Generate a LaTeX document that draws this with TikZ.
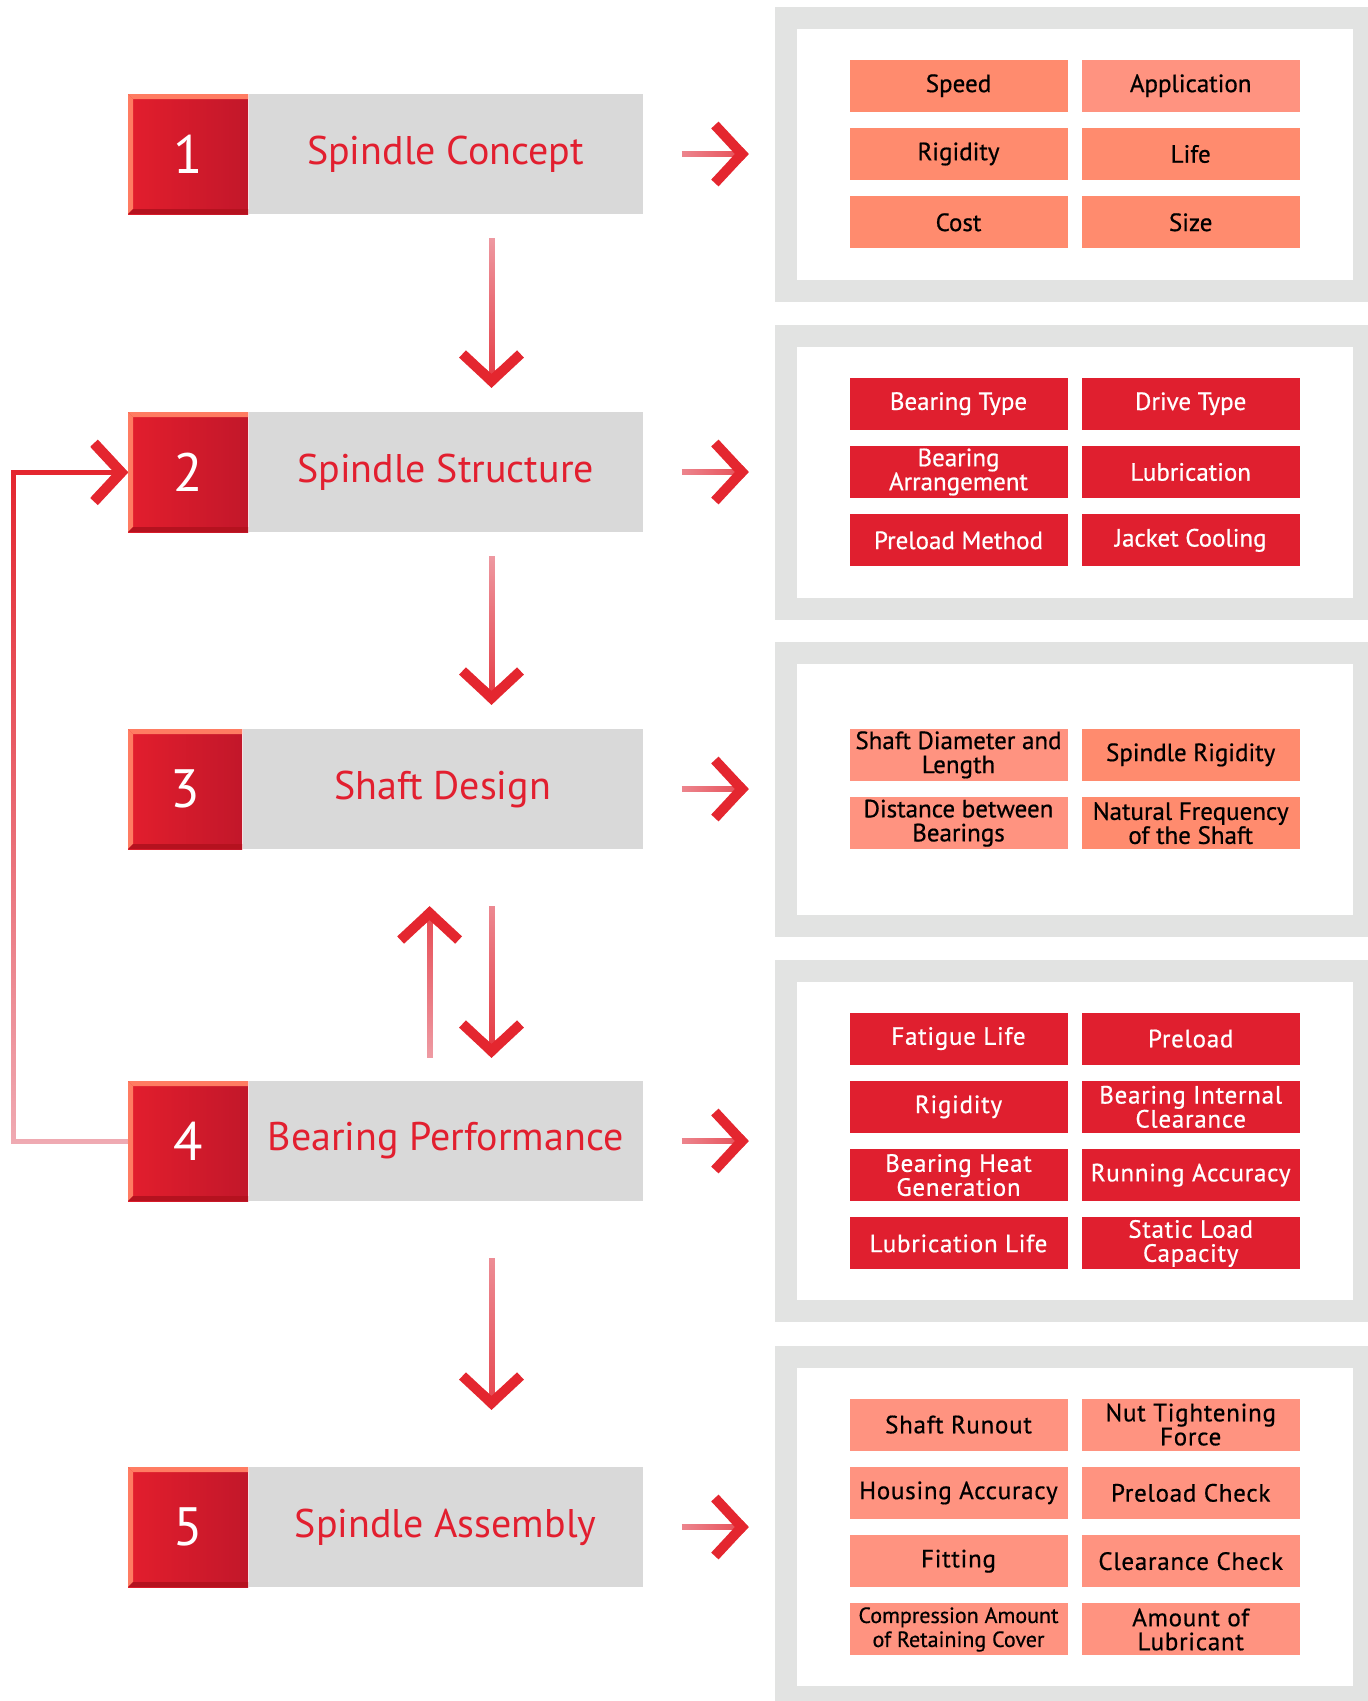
\documentclass[tikz,border=0pt]{standalone}
\usepackage{fontspec}
\setmainfont{PT Sans}
\newfontface\itemfont[FakeBold=0.6]{PT Sans}
\newcommand\narrowtxt{\fontsize{22}{23}\selectfont\addfontfeature{LetterSpace=0}}
\usetikzlibrary{positioning,arrows.meta,fadings}

\definecolor{numredL}{HTML}{E31E2D}
\definecolor{numredR}{HTML}{C2172A}
\definecolor{bevlight}{HTML}{FF7C62}
\definecolor{bevdark}{HTML}{B5121F}
\definecolor{stepgray}{HTML}{D9D9D9}
\definecolor{titlered}{HTML}{E21F2F}
\definecolor{panelgray}{HTML}{E2E3E2}
\definecolor{itemsalmon}{HTML}{FF8B6E}
\definecolor{itempink}{HTML}{FF9380}
\definecolor{itemred}{HTML}{E01F2F}
\definecolor{arrowred}{HTML}{E4262F}
\definecolor{shaftpink}{HTML}{F2C2CA}

\tikzfading[name=fade down, top color=transparent!85, bottom color=transparent!0]
\tikzfading[name=fade up, top color=transparent!0, bottom color=transparent!85]
\tikzfading[name=fade right, left color=transparent!85, right color=transparent!0]

\tikzset{
  numbox/.style={minimum width=120pt, minimum height=120pt, inner sep=0pt,
    left color=numredL, right color=numredR, text=white,
    font=\fontsize{54}{54}\selectfont,
    path picture={
      \fill[bevlight] (path picture bounding box.north west) -- (path picture bounding box.north east)
        -- ([yshift=-5pt]path picture bounding box.north east)
        -- ([xshift=5pt,yshift=-5pt]path picture bounding box.north west) -- cycle;
      \fill[bevlight] (path picture bounding box.north west) -- ([xshift=5pt,yshift=-5pt]path picture bounding box.north west)
        -- ([xshift=5pt,yshift=5pt]path picture bounding box.south west)
        -- (path picture bounding box.south west) -- cycle;
      \fill[bevdark] (path picture bounding box.south west) -- (path picture bounding box.south east)
        -- ([yshift=5pt]path picture bounding box.south east)
        -- ([xshift=5pt,yshift=5pt]path picture bounding box.south west) -- cycle;
    }},
  titlebox/.style={fill=stepgray, minimum width=394pt, minimum height=120pt, inner sep=0pt,
    text=titlered, font=\fontsize{40}{42}\selectfont},
  panelbox/.style={draw=panelgray, line width=22pt, fill=white, outer sep=0pt,
    minimum width=578pt, minimum height=273pt},
  item/.style={minimum width=218pt, minimum height=52pt, inner sep=0pt, align=center,
    font=\itemfont\fontsize{25}{24}\selectfont},
  wide/.style={font=\itemfont\fontsize{25}{24}\selectfont\addfontfeature{LetterSpace=3}},
  flow/.style={line width=6pt, draw=shaftpink,
    -{Straight Barb[length=27pt, width=58pt, line width=10pt, color=arrowred]},
    postaction={draw=arrowred, path fading=#1}},
}

\begin{document}
\begin{tikzpicture}[x=1pt, y=-1pt]
    \useasboundingbox (0,0) rectangle (1368,1701);
    \fill[white] (0,0) rectangle (1368,1701);

    % steps on the left
    \node[numbox, anchor=west] (num1) at (128,154) {1};
    \node[titlebox, right=0pt of num1] (step1) {Spindle Concept};
    \node[numbox, anchor=west] (num2) at (128,472) {2};
    \node[titlebox, right=0pt of num2] (step2) {Spindle Structure};
    \node[numbox, anchor=west, minimum width=114pt] (num3) at (128,789) {3};
    \node[titlebox, right=0pt of num3, minimum width=400pt] (step3) {Shaft Design};
    \node[numbox, anchor=west] (num4) at (128,1141) {4};
    \node[titlebox, right=0pt of num4] (step4) {Bearing Performance};
    \node[numbox, anchor=west] (num5) at (128,1527) {5};
    \node[titlebox, right=0pt of num5] (step5) {Spindle Assembly};

    % panels on the right
    \node[panelbox] (panel1) at (1074.7,154) {};
    \node[panelbox] (panel2) at (1074.7,472) {};
    \node[panelbox] (panel3) at (1074.7,789) {};
    \node[panelbox, minimum height=340pt] (panel4) at (1074.7,1141) {};
    \node[panelbox, minimum height=340pt] (panel5) at (1074.7,1527) {};

    \foreach \col/\txt [count=\k from 0] in {itemsalmon/Speed, itempink/Application,
        itemsalmon/Rigidity, itemsalmon/Life, itemsalmon/Cost, itemsalmon/Size}{
      \pgfmathsetmacro\cx{958.5+mod(\k,2)*232.2}
      \pgfmathsetmacro\cy{154+(floor(\k/2)-1)*68.3}
      \node[item, fill=\col] (p1-\k) at (\cx,\cy) {\txt};
    }
    \foreach \txt [count=\k from 0] in {Bearing Type, Drive Type, Bearing\\Arrangement,
        Lubrication, Preload Method, Jacket Cooling}{
      \pgfmathsetmacro\cx{958.5+mod(\k,2)*232.2}
      \pgfmathsetmacro\cy{472+(floor(\k/2)-1)*68.3}
      \node[item, fill=itemred, text=white] (p2-\k) at (\cx,\cy) {\txt};
    }
    \foreach \col/\txt [count=\k from 0] in {itempink/Shaft Diameter and\\Length,
        itemsalmon/Spindle Rigidity, itempink/Distance between\\Bearings,
        itemsalmon/Natural Frequency\\of the Shaft}{
      \pgfmathsetmacro\cx{958.5+mod(\k,2)*232.2}
      \pgfmathsetmacro\cy{789+(floor(\k/2)-0.5)*68.3}
      \node[item, fill=\col] (p3-\k) at (\cx,\cy) {\txt};
    }
    \foreach \txt [count=\k from 0] in {Fatigue Life, Preload, Rigidity, Bearing Internal\\Clearance,
        Bearing Heat\\Generation, Running Accuracy, Lubrication Life, Static Load\\Capacity}{
      \pgfmathsetmacro\cx{958.5+mod(\k,2)*232.2}
      \pgfmathsetmacro\cy{1141+(floor(\k/2)-1.5)*68.3}
      \node[item, wide, fill=itemred, text=white] (p4-\k) at (\cx,\cy) {\txt};
    }
    \foreach \txt [count=\k from 0] in {Shaft Runout, Nut Tightening\\Force, Housing Accuracy,
        Preload Check, Fitting, Clearance Check,
        \narrowtxt Compression Amount\\\narrowtxt of Retaining Cover,
        Amount of\\Lubricant}{
      \pgfmathsetmacro\cx{958.5+mod(\k,2)*232.2}
      \pgfmathsetmacro\cy{1527+(floor(\k/2)-1.5)*68.3}
      \node[item, wide, fill=itempink] (p5-\k) at (\cx,\cy) {\txt};
    }

    % arrows
    \coordinate (dn) at (491.5,0);
    \coordinate (up) at (429.6,0);
    \coordinate (fb) at (13,0);
    \foreach \i in {1,...,5}
      \draw[flow=fade right, shorten <=39pt, shorten >=37pt] (step\i.east) -- (panel\i.west);
    \draw[flow=fade down, shorten <=24pt, shorten >=24pt] (step1.south -| dn) -- (step2.north -| dn);
    \draw[flow=fade down, shorten <=24pt, shorten >=24pt] (step2.south -| dn) -- (step3.north -| dn);
    \draw[flow=fade down, shorten <=57pt, shorten >=23pt] (step3.south -| dn) -- (step4.north -| dn);
    \draw[flow=fade up, shorten <=23pt, shorten >=57pt] (step4.north -| up) -- (step3.south -| up);
    \draw[flow=fade down, shorten <=57pt, shorten >=57pt] (step4.south -| dn) -- (step5.north -| dn);
    \draw[flow=fade up, line width=5pt] (num4.west) -- (num4.west -| fb) -- (num2.west -| fb) -- (num2.west);
\end{tikzpicture}
\end{document}
